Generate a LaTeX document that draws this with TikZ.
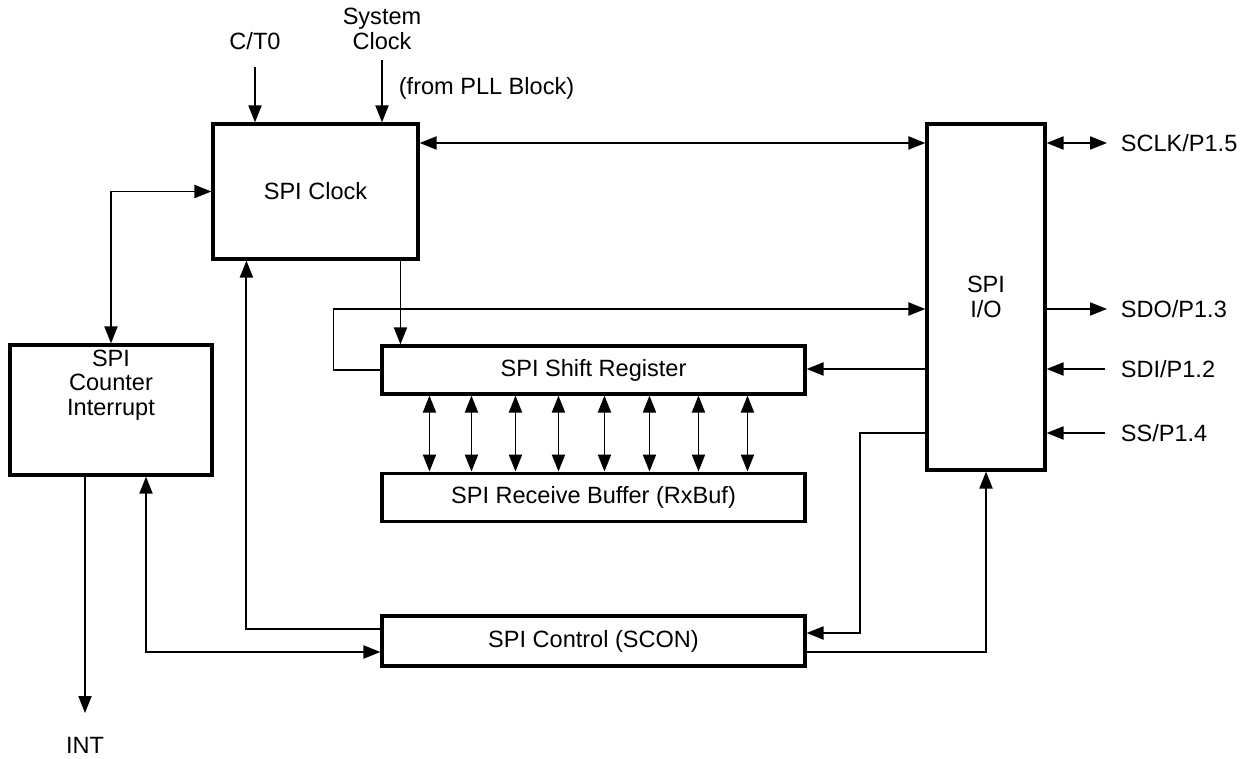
\documentclass[tikz,border=0pt]{standalone}
\usepackage{fontspec}
\setmainfont{Liberation Sans}
\usetikzlibrary{arrows.meta, positioning, calc}
\tikzstyle{arrow} = [line width=1.1pt,->,>={Triangle[length=0.34cm,width=0.26cm]}]
\tikzstyle{block} = [rectangle, line width=1.8pt, draw=black, align=center, text centered]
\tikzstyle{signal} = [inner sep=2pt, align=center]

\begin{document}
\begin{tikzpicture}[x=0.02cm, y=-0.02cm, font=\fontsize{13.4}{14}\selectfont]
\useasboundingbox (0,0) rectangle (1253,759);

% Blocks
\node (clock) [block, minimum width=4.1cm, minimum height=2.7cm] at (315.5,191.5) {SPI Clock};
\node (io) [block, minimum width=2.36cm, minimum height=6.92cm] at (986,297) {SPI\\I/O};
\node (shift) [block, minimum width=8.46cm, minimum height=0.96cm] at (593.5,370) {SPI Shift Register};
\node (rxbuf) [block, minimum width=8.46cm, minimum height=0.96cm, below=1.52cm of shift] {SPI Receive Buffer (RxBuf)};
\node (ctrl) [block, minimum width=8.46cm, minimum height=1cm] at (593.5,641) {SPI Control (SCON)};
\node (counter) [block, minimum width=4.04cm, minimum height=2.6cm,
  label={[signal, yshift=0.5cm]center:{SPI\\Counter\\Interrupt}}] at (111,410) {};

% Signals
\node (ct0) [signal, anchor=south] at (255,53.5) {C/T0};
\node (sysclk) [signal, anchor=south] at (382,53.5) {System\\Clock};
\node (pll) [signal, anchor=west] at (395,88) {(from PLL Block)};
\node (sclk) [signal, anchor=west] at (1117,143) {SCLK/P1.5};
\node (sdo) [signal, anchor=west] at (1117,309) {SDO/P1.3};
\node (sdi) [signal, anchor=west] at (1117,369) {SDI/P1.2};
\node (ss) [signal, anchor=west] at (1117,433) {SS/P1.4};
\node (int) [signal] at (85,745) {INT};

% Helper points
\coordinate (sin) at ($(shift.north west)+(20,0)$);
\coordinate (kout) at ($(counter.south)+(-26,0)$);
\coordinate (kin) at ($(counter.south)+(35,0)$);
\coordinate (cin) at ($(clock.south west)+(35,0)$);
\coordinate (cu) at ($(ctrl.west)+(0,-12)$);
\coordinate (cl) at ($(ctrl.west)+(0,11)$);
\coordinate (cr) at ($(ctrl.east)+(0,-8)$);

% Connections
\draw [arrow] ([yshift=-0.27cm]ct0.south) -- (ct0 |- clock.north);
\draw [arrow] ([yshift=-0.13cm]sysclk.south) -- (sysclk |- clock.north);
\draw [arrow,<->] (clock.east |- sclk) -- (io.west |- sclk);
\draw [arrow,<->] (io.east |- sclk) -- ([xshift=-0.2cm]sclk.west);
\draw [arrow] (io.east |- sdo) -- ([xshift=-0.2cm]sdo.west);
\draw [arrow] ([xshift=-0.24cm]sdi.west) -- (io.east |- sdi);
\draw [arrow] ([xshift=-0.24cm]ss.west) -- (io.east |- ss);
\draw [arrow] (shift.west) -- ++(-47,0) |- (io.west |- sdo);
\draw [arrow] (io.west |- sdi) -- (shift.east |- sdi);
\draw [arrow] (sin |- clock.south) -- (sin);
\foreach \dx in {49,91,135,178,224,269,318,367}
  \draw [arrow,<->] ($(shift.south west)+(\dx,0)$) -- ($(rxbuf.north west)+(\dx,0)$);
\draw [arrow,<->] (clock.west) -| (counter.north);
\draw [arrow] (kout) -- ([yshift=0.4cm]int.north);
\draw [arrow] (cu) -| (cin);
\draw [arrow,<->] (kin) |- (cl);
\draw [arrow] (io.west |- ss) -- ++(-65,0) |- (cr);
\draw [arrow] (ctrl.east |- cl) -| (io.south);

\end{tikzpicture}
\end{document}
